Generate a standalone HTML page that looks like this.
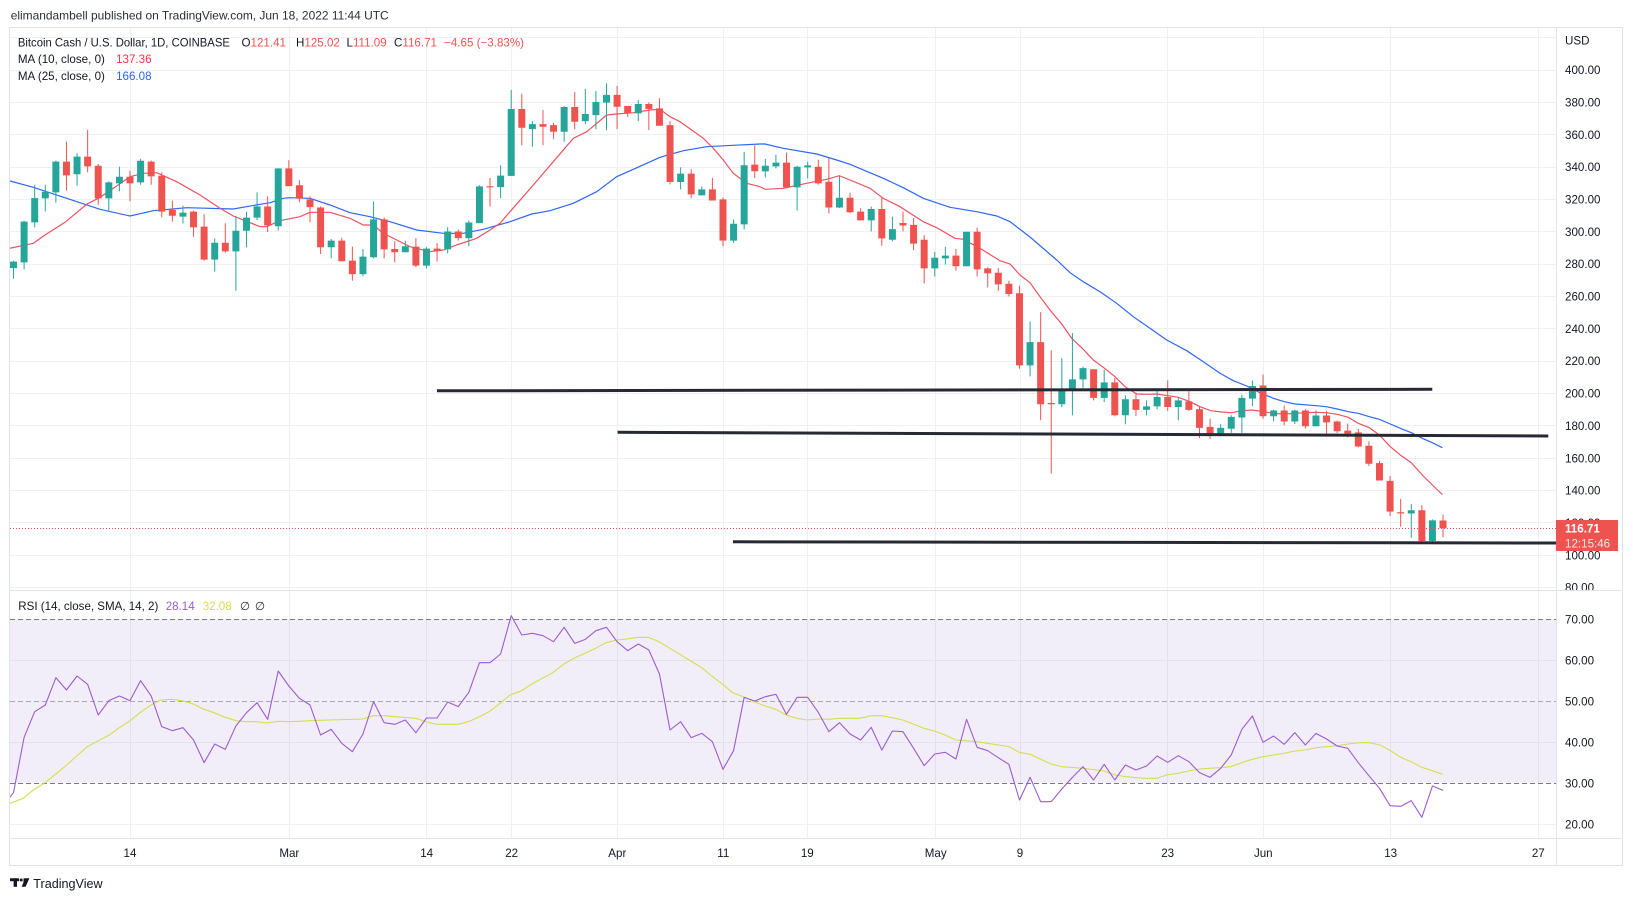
<!DOCTYPE html>
<html><head><meta charset="utf-8"><style>
html,body{margin:0;padding:0;background:#fff;}
svg{display:block;font-family:"Liberation Sans",Arial,sans-serif;}
</style></head><body>
<svg width="1633" height="901" viewBox="0 0 1633 901" xmlns="http://www.w3.org/2000/svg">
<defs>
<clipPath id="cm"><rect x="10" y="28" width="1546" height="562"/></clipPath>
<clipPath id="cr"><rect x="10" y="591" width="1546" height="247"/></clipPath>
<clipPath id="ca"><rect x="1557" y="28" width="65" height="562"/></clipPath>
</defs>
<rect width="1633" height="901" fill="#fff"/>

<!-- grid -->
<g stroke="#eef0f4" stroke-width="1" fill="none">
<path d="M10 37.5H1556M10 70.5H1556M10 102.5H1556M10 134.5H1556M10 167.5H1556M10 199.5H1556M10 231.5H1556M10 264.5H1556M10 296.5H1556M10 328.5H1556M10 361.5H1556M10 393.5H1556M10 425.5H1556M10 458.5H1556M10 490.5H1556M10 522.5H1556M10 555.5H1556M10 587.5H1556"/>
<path d="M10 660.5H1556M10 742.5H1556M10 824.5H1556"/>
<path d="M130.5 28V838M289.5 28V838M426.5 28V838M511.5 28V838M617.5 28V838M723.5 28V838M807.5 28V838M935.5 28V838M1020.5 28V838M1167.5 28V838M1263.5 28V838M1390.5 28V838M1538.5 28V838"/>
</g>

<!-- RSI band -->
<rect x="10" y="619.3" width="1546" height="164" fill="rgb(126,87,194)" fill-opacity="0.1"/>
<g stroke-width="1" fill="none" stroke-dasharray="5 3">
<path d="M10 619.5H1556" stroke="#787b86"/>
<path d="M10 701.5H1556" stroke="#a8a9b3"/>
<path d="M10 783.5H1556" stroke="#787b86"/>
</g>

<!-- main pane content -->
<g clip-path="url(#cm)">
<!-- MA25 -->
<polyline fill="none" stroke="#2f66f6" stroke-width="1.2" points="10,181 33.3,187.3 66.7,198.3 100,209.3 130,216 153.3,210.7 186.7,207.7 233.3,209 260,204.3 270,202.7 283.3,198.3 289.3,197.7 310,198.3 330,205 350,212.7 370,216.7 390,221.7 416.7,230 443.3,233.3 463.3,233.3 483.3,229.3 510,221.7 531.7,214 550,210.7 573.3,203.3 596.7,191.7 616.7,176.7 633.3,169.3 660,157.3 683.3,150.7 706.7,146.7 733.3,145.3 760,144 765,144 783.3,148.3 816.7,154 836.7,160 850,164.3 883.3,178.3 903.3,187.7 923.3,198.3 950,207.3 976.7,211.7 996.7,216 1010,221.7 1030,237 1056.7,260 1070,272.7 1083.3,281.7 1100,291.7 1116.7,303.3 1133.3,316.7 1150,328.3 1166.7,340 1186.7,350.7 1203.3,361.7 1220,373.3 1233.3,380.7 1246.7,386 1260,392.7 1273.3,398.3 1284.3,401.7 1295.3,404 1316.3,405.7 1326.3,406.7 1337.3,409 1348.3,411.7 1358.3,413.3 1369.3,416.7 1379.3,419.3 1390.3,424 1400.3,428.3 1411.3,432.7 1422.3,438.3 1432.3,442.7 1442.3,447.7"/>
<!-- MA10 -->
<polyline fill="none" stroke="#f0525f" stroke-width="1.2" points="10,248.3 33.3,243.3 45,235 65,222.3 86.7,204.3 100,197.3 116.7,186 130,176.7 143.3,173.3 156.7,172.7 176.7,181.7 200,195 220,208.3 233.3,216 260,226.7 266.7,226.7 280,220.7 300,216.7 310,212.3 330,212.3 350,218.3 363.3,225 373.3,225 383.3,233.3 396.7,240 410,246.7 430,251.7 443.3,250 456.7,245 476.7,238.3 490,230 500,223.3 510,211.7 533.3,185 553.3,161.7 573.3,138.3 586.7,131.7 606.7,115 616.7,114 633.3,112.7 650,110 660,109.3 670,116.7 680,121.7 691.7,130 703.3,138.3 713.3,148.3 723.3,160 733.3,173.3 746.7,183.3 760,186.7 765,189.3 783.3,188.3 806.7,183.3 826.7,179.3 839.3,175.7 850,180 870,188.3 883.3,198.3 900,206.7 923.3,221.7 936.7,227.7 955,238.3 963.3,239.3 980,248.3 1000,260.7 1010,264 1020,275 1030,282.7 1040,296.7 1050,310 1061.7,324 1071.7,338.3 1083.3,349.3 1093.3,360 1103.3,367.3 1115,376.7 1125,386.7 1136.7,394 1146.7,394.3 1156.7,394 1168.3,395.7 1178.3,397.3 1190,401.7 1200,406.7 1210.7,410.7 1221.7,412 1231.7,412.7 1242.3,410.7 1252.3,410 1263.3,411.7 1273.3,413.3 1284.3,414 1295.3,413.3 1305.3,412.7 1316.3,412.3 1326.3,412.7 1337.3,414.3 1348.3,417.3 1358.3,423.3 1369.3,427.7 1379.3,435 1390.3,446.7 1400.3,455 1411.3,462.7 1422.3,475 1432.3,485 1442.3,494.5"/>

<g transform="matrix(10.589 0 0 -1.617 2.93 716.8)">
<path fill="none" stroke="#26a69a" stroke-width="1" vector-effect="non-scaling-stroke" d="M1 271V282M2 276.7V306.8M3 302.7V329M4 312.6V329M5 318V344M7 328.5V348.5M10 312.6V331.1M11 325V340.2M13 329V345M17 305.1V316.1M20 275.3V295.9M22 263.5V309.9M23 290.3V312.4M24 307.2V324.3M26 300.7V339.2M31 283.5V295.5M34 272.4V289.3M35 283.5V318.7M38 287.3V294.5M40 277.3V290.4M42 286.6V302.8M44 291V306.9M45 305.3V328.7M47 320.8V341.1M48 334.5V387.7M50 352.5V368.4M53 355.6V377.7M55 366.5V388.3M56 363.4V387M57 362.8V391.8M60 368.4V381.4M64 326.2V339.8M66 322.5V328M69 293.1V307.6M70 301.3V349.4M72 333.6V345M73 339.2V347.6M75 313V340.8M76 333V343.3M79 314.6V334.6M82 300.2V315.5M84 294V309.3M88 272.4V287.6M89 279.6V290.7M91 278.6V300M97 210.5V244.4M100 191.6V221.8M101 186.5V237.3M102 203.4V216.5M104 194.7V214.7M106 180.9V198.8M108 186.5V195.7M109 190.2V202.3M111 183.4V197.4M115 173.6V181M116 175.6V186.5M117 175.6V199.2M118 192.1V208M120 182.8V190M122 181.1V190M124 179.7V189.4M133 110.8V131.7M135 107.2V122.1"/>
<path fill="#26a69a" d="M.67 277.5h.66V281.5h-.66ZM1.67 281h.66V306.2h-.66ZM2.67 305.8h.66V320.8h-.66ZM3.67 320.6h.66V324.7h-.66ZM4.67 324.3h.66V343.3h-.66ZM6.67 335.5h.66V346.4h-.66ZM9.67 320.6h.66V330.5h-.66ZM10.67 329.9h.66V334h-.66ZM12.67 330.5h.66V343.9h-.66ZM16.67 309.3h.66V311.8h-.66ZM19.67 282.7h.66V293.2h-.66ZM21.67 287.8h.66V300.6h-.66ZM22.67 300.6h.66V308.7h-.66ZM23.67 308.7h.66V315.7h-.66ZM25.67 303.4h.66V339.2h-.66ZM30.67 290.4h.66V294.5h-.66ZM33.67 273.8h.66V284.6h-.66ZM34.67 284.2h.66V307.6h-.66ZM37.67 287.3h.66V291h-.66ZM39.67 279h.66V289.5h-.66ZM41.67 289.1h.66V300.1h-.66ZM43.67 296h.66V305.7h-.66ZM44.67 305.3h.66V328h-.66ZM46.67 327.6h.66V334.7h-.66ZM47.67 334.5h.66V375.9h-.66ZM49.67 363.4h.66V366.5h-.66ZM52.67 361.8h.66V377.1h-.66ZM54.67 368.4h.66V372.8h-.66ZM55.67 372.1h.66V380.2h-.66ZM56.67 379.8h.66V384.6h-.66ZM59.67 373.2h.66V379h-.66ZM63.67 330.7h.66V335.9h-.66ZM65.67 322.5h.66V326.2h-.66ZM68.67 294.5h.66V304.9h-.66ZM69.67 304.5h.66V341.1h-.66ZM71.67 337.3h.66V340.8h-.66ZM72.67 340.4h.66V342.7h-.66ZM74.67 327.4h.66V340.2h-.66ZM75.67 339.8h.66V341h-.66ZM78.67 315h.66V321h-.66ZM81.67 307h.66V314h-.66ZM83.67 295h.66V301.6h-.66ZM87.67 277.3h.66V283.9h-.66ZM88.67 283.5h.66V285.2h-.66ZM90.67 278.6h.66V300h-.66ZM96.67 217.3h.66V231.7h-.66ZM99.67 193.3h.66V201.9h-.66ZM100.67 201.9h.66V208.7h-.66ZM101.67 208.7h.66V215.6h-.66ZM103.67 197.2h.66V206.8h-.66ZM105.67 186.5h.66V196.4h-.66ZM107.67 189.8h.66V192h-.66ZM108.67 192h.66V197.8h-.66ZM110.67 191.6h.66V195.7h-.66ZM114.67 174.2h.66V178.7h-.66ZM115.67 178.1h.66V185.5h-.66ZM116.67 185.1h.66V197.2h-.66ZM117.67 196.8h.66V204.6h-.66ZM119.67 185.9h.66V189.4h-.66ZM121.67 182.6h.66V189.4h-.66ZM123.67 179.7h.66V186.3h-.66ZM132.67 125.7h.66V127.7h-.66ZM134.67 108.7h.66V121.5h-.66Z"/>
<path fill="none" stroke="#ef5350" stroke-width="1" vector-effect="non-scaling-stroke" d="M6 325.4V355.7M8 336.7V363M9 316.7V341.9M12 318.8V337.7M14 329V344M15 308.9V336.7M16 306.2V319.2M18 296.9V313M19 282.1V310.9M21 287V305.2M25 299.7V321.8M27 328.2V344.2M28 318.3V331.8M29 305.9V321.8M30 286.2V315.6M32 281.7V296.2M33 269.7V290.8M36 283.5V308.8M37 281V294.1M39 278V296M41 281.5V292.9M43 294.5V301.3M46 315.6V333.2M49 353.5V385.2M51 353.5V375.2M52 357.2V367.4M54 363.4V386.4M58 363.4V390.1M59 371.1V377.7M61 362.8V380M62 365.5V382.5M63 329.3V368.4M65 320.6V338.6M67 319.3V333.2M68 291V321.2M71 333.1V353.5M74 327.4V348.9M77 329.1V344.5M78 311.3V345.6M80 311.5V324.1M81 307V314.6M83 291.3V321.6M85 300.2V312.4M86 288.7V308.5M87 268V297.9M90 275.9V289.3M92 272.4V302.5M93 265.6V277.9M94 263.5V277.5M95 260V269.7M96 215.3V266.6M98 183.4V250.2M99 150.5V226.6M103 195.7V214.9M105 185.9V209.5M107 186.1V200.3M110 189.2V208.1M112 189.2V201.3M113 172.5V192.2M114 171.9V184.4M119 184.4V211.7M121 180.3V192.5M123 178.2V190.4M125 174V189M126 175.5V183.2M127 172.8V181.3M128 166.6V178M129 155.2V170.3M130 146.1V158.3M131 124.2V149M132 117.6V134.8M134 107.6V130.8M136 111.09V125.02"/>
<path fill="#ef5350" d="M5.67 343.3h.66V334.8h-.66ZM7.67 346.4h.66V340.4h-.66ZM8.67 340.8h.66V320.6h-.66ZM11.67 334h.66V329.9h-.66ZM13.67 343.3h.66V334.2h-.66ZM14.67 334.6h.66V312.4h-.66ZM15.67 313.6h.66V309.9h-.66ZM17.67 312.4h.66V302.7h-.66ZM18.67 303.1h.66V282.7h-.66ZM20.67 293.2h.66V287.8h-.66ZM24.67 315.6h.66V303.8h-.66ZM26.67 339.2h.66V328.2h-.66ZM27.67 328.7h.66V320.4h-.66ZM28.67 320h.66V315.2h-.66ZM29.67 315h.66V290.4h-.66ZM31.67 294.5h.66V281.7h-.66ZM32.67 282.1h.66V273.8h-.66ZM35.67 307.6h.66V289.1h-.66ZM36.67 289.3h.66V287.3h-.66ZM38.67 290.8h.66V279h-.66ZM40.67 289.5h.66V288.3h-.66ZM42.67 300.1h.66V296h-.66ZM45.67 328.1h.66V327.4h-.66ZM48.67 375.9h.66V364.3h-.66ZM50.67 366.5h.66V364.9h-.66ZM51.67 365.9h.66V361.8h-.66ZM53.67 377.1h.66V368h-.66ZM57.67 384.6h.66V377.3h-.66ZM58.67 377.7h.66V373.2h-.66ZM60.67 379h.66V375.9h-.66ZM61.67 376.3h.66V365.5h-.66ZM62.67 365.9h.66V330.7h-.66ZM64.67 335.9h.66V323.1h-.66ZM66.67 326.2h.66V319.3h-.66ZM67.67 320h.66V294.5h-.66ZM70.67 341.5h.66V337.4h-.66ZM73.67 342.7h.66V327.4h-.66ZM76.67 340.2h.66V329.9h-.66ZM77.67 330.9h.66V315h-.66ZM79.67 321h.66V312h-.66ZM80.67 312.4h.66V307h-.66ZM82.67 314h.66V295.9h-.66ZM84.67 305.4h.66V303.8h-.66ZM85.67 304.2h.66V292.6h-.66ZM86.67 295h.66V277.3h-.66ZM89.67 285.2h.66V278.6h-.66ZM91.67 300h.66V276.7h-.66ZM92.67 277.3h.66V274.2h-.66ZM93.67 274.6h.66V267.4h-.66ZM94.67 267.8h.66V261.5h-.66ZM95.67 261.9h.66V217.3h-.66ZM97.67 231.7h.66V193.3h-.66ZM98.67 194.1h.66V193.3h-.66ZM102.67 214.9h.66V197.2h-.66ZM104.67 206.8h.66V186.5h-.66ZM106.67 196.4h.66V189.8h-.66ZM109.67 197.8h.66V191.6h-.66ZM111.67 195.1h.66V189.8h-.66ZM112.67 190.2h.66V178.7h-.66ZM113.67 179.3h.66V174.2h-.66ZM118.67 204.9h.66V185.9h-.66ZM120.67 189.4h.66V182.6h-.66ZM122.67 189.4h.66V179.7h-.66ZM124.67 186.3h.66V182.1h-.66ZM125.67 182.6h.66V176.6h-.66ZM126.67 177h.66V175.1h-.66ZM127.67 175.9h.66V167.2h-.66ZM128.67 167.6h.66V156.5h-.66ZM129.67 156.9h.66V146.1h-.66ZM130.67 145.9h.66V126.9h-.66ZM131.67 126.5h.66V125.7h-.66ZM133.67 127.7h.66V108.7h-.66ZM135.67 121.41h.66V116.71h-.66Z"/>
</g>

<!-- last price dotted line -->
<path d="M10 528.5H1556" stroke="#ef5350" stroke-width="1" stroke-dasharray="1 2"/>

<!-- trend lines -->
<g stroke="#262a35" stroke-width="3" stroke-linecap="butt">
<line x1="437" y1="390.8" x2="1432.3" y2="389.3"/>
<line x1="617.6" y1="432.3" x2="1548.3" y2="436"/>
<line x1="733" y1="541.8" x2="1556" y2="543"/>
</g>
</g>

<!-- RSI pane content -->
<g clip-path="url(#cr)">
<polyline fill="none" stroke="#d2df4e" stroke-width="1.1" points="10,803.3 23.3,798.3 33.3,790 45,782.7 56.7,773.3 66.7,765 76.7,756 87.3,746.7 98.3,740.7 109.3,735 119.3,727.7 130,720.7 140,712.7 151,705 161,700 171.7,699.3 182.3,700.7 193.3,704 203.7,709.3 214,712.7 225,717.3 236,720.7 246.7,721.7 256.7,721.7 266.7,723 277.7,721.3 288.3,721.7 299,721.3 310,720.7 320,720.3 362.7,719 373.3,715.7 384.3,715.7 395,716.7 416,718.3 426.7,722 436.7,724.3 458.3,724.3 469.3,721.3 479.3,716.7 489.3,711.7 500,703.3 510,695 521.7,690.7 531.7,684 552.7,672.7 564,664 574,658.3 585,653.3 595.7,648.3 606,642.7 616.7,640 626.7,639 637.7,637.3 648.3,637.3 659,641.7 670,648.3 680,654.3 690.7,661 701.7,667.7 711.7,676 722.7,684.3 732.7,692.7 743.3,696.7 754.3,701.7 765,706 775.7,709.3 786,715 796.7,718.3 807.3,720 818.3,719 829,719.3 839.3,718.3 860,718.3 870.7,715.7 881.7,715.7 892.3,717.7 902.7,720 913.3,724 924,728.3 934.3,731 945,735 955.7,740 966,740.7 976.7,741.7 987.3,743.3 998.3,745 1009,746.7 1019,752.3 1030,754.3 1040.7,759.3 1051,764 1061.7,766.7 1082.7,768.3 1104,771 1115,775 1125.7,776.7 1136,777.7 1146,778.3 1156.7,778.3 1166.7,775 1177.7,773.3 1188.3,771 1199,769 1209.3,768.3 1220,767.7 1230.7,766.7 1241.7,762.7 1252.3,759.3 1262.7,756.7 1273.3,755 1284,753.3 1295,751 1305,750 1316,747.7 1326.7,746.7 1337.3,745.7 1348.3,744 1359.3,742.7 1369.3,742.7 1380,745 1390.7,750.7 1400.7,757.3 1411,761.7 1421.7,767.3 1432.3,770.7 1442.7,774.3"/>
<polyline transform="matrix(10.589 0 0 0.333333 2.93 590)" fill="none" stroke="#9c5ccf" stroke-width="1.1" vector-effect="non-scaling-stroke" stroke-linejoin="round" points="0,647 1,608 2,442 3,365 4,345 5,263 6,300 7,258 8,283 9,375 10,332 11,318 12,332 13,272 14,318 15,410 16,422 17,413 18,450 19,518 20,462 21,478 22,408 23,368 24,338 25,388 26,243 27,288 28,325 29,345 30,435 31,418 32,460 33,485 34,432 35,335 36,398 37,403 38,390 39,428 40,384 41,384 42,336 43,350 44,307 45,218 46,218 47,192 48,77 49,135 50,130 51,137 52,155 53,112 54,160 55,148 56,122 57,112 58,155 59,182 60,162 61,180 62,252 63,420 64,395 65,443 66,430 67,455 68,538 69,482 70,322 71,333 72,320 73,313 74,373 75,322 76,322 77,367 78,425 79,398 80,432 81,450 82,412 83,480 84,423 85,425 86,475 87,527 88,492 89,487 90,507 91,388 92,472 93,482 94,503 95,523 96,630 97,562 98,635 99,635 100,597 101,562 102,530 103,570 104,523 105,570 106,525 107,540 108,528 109,498 110,517 111,497 112,515 113,548 114,562 115,535 116,495 117,418 118,378 119,457 120,438 121,463 122,428 123,465 124,430 125,447 126,468 127,475 128,518 129,557 130,595 131,647 132,649 133,632 134,682 135,588 136,601"/>
</g>

<!-- frame & separators -->
<g stroke="#e0e3eb" stroke-width="1" fill="none">
<rect x="9.5" y="27.5" width="1613" height="838"/>
<path d="M10 590.5H1622M10 838.5H1622M1556.5 28V865"/>
</g>

<!-- header -->
<text x="10.7" y="19.3" font-size="12" fill="#2a2e39" textLength="378" lengthAdjust="spacingAndGlyphs">elimandambell published on TradingView.com, Jun 18, 2022 11:44 UTC</text>

<!-- legend -->
<g font-size="11.6" fill="#131722">
<text x="17.9" y="46.7" textLength="212" lengthAdjust="spacingAndGlyphs">Bitcoin Cash / U.S. Dollar, 1D, COINBASE</text>
<text x="241.5" y="46.7">O<tspan fill="#ef5350">121.41</tspan></text>
<text x="296" y="46.7">H<tspan fill="#ef5350">125.02</tspan></text>
<text x="346.5" y="46.7">L<tspan fill="#ef5350">111.09</tspan></text>
<text x="394" y="46.7">C<tspan fill="#ef5350">116.71</tspan></text>
<text x="444.1" y="46.7" fill="#ef5350">−4.65 (−3.83%)</text>
<text x="17.9" y="63.2">MA (10, close, 0)</text>
<text x="116.1" y="63.2" fill="#f23645">137.36</text>
<text x="17.9" y="79.9">MA (25, close, 0)</text>
<text x="116.1" y="79.9" fill="#2962ff">166.08</text>
<text x="18.3" y="609.9" textLength="140" lengthAdjust="spacingAndGlyphs">RSI (14, close, SMA, 14, 2)</text>
<text x="165.7" y="609.9" fill="#9c5ccf">28.14</text>
<text x="202.7" y="609.9" fill="#d2df4e">32.08</text>
<text x="240" y="609.9" fill="#2a2e39">∅</text>
<text x="255" y="609.9" fill="#2a2e39">∅</text>
</g>

<!-- price axis labels -->
<g font-size="11.6" fill="#131722">
<text x="1565" y="44.7">USD</text>
<g clip-path="url(#ca)">
<text x="1565" y="74.2">400.00</text>
<text x="1565" y="106.5">380.00</text>
<text x="1565" y="138.9">360.00</text>
<text x="1565" y="171.2">340.00</text>
<text x="1565" y="203.5">320.00</text>
<text x="1565" y="235.9">300.00</text>
<text x="1565" y="268.2">280.00</text>
<text x="1565" y="300.6">260.00</text>
<text x="1565" y="332.9">240.00</text>
<text x="1565" y="365.2">220.00</text>
<text x="1565" y="397.6">200.00</text>
<text x="1565" y="429.9">180.00</text>
<text x="1565" y="462.3">160.00</text>
<text x="1565" y="494.6">140.00</text>
<text x="1565" y="527">120.00</text>
<text x="1565" y="559.3">100.00</text>
<text x="1565" y="591.6">80.00</text>
</g>
<text x="1565" y="623.5">70.00</text>
<text x="1565" y="664.5">60.00</text>
<text x="1565" y="705.5">50.00</text>
<text x="1565" y="746.5">40.00</text>
<text x="1565" y="787.5">30.00</text>
<text x="1565" y="828.5">20.00</text>
</g>

<!-- last price label -->
<rect x="1556" y="520" width="62" height="31" fill="#ef5350"/>
<text x="1565" y="532.3" font-size="11.6" font-weight="bold" fill="#fff">116.71</text>
<text x="1565" y="547.5" font-size="11.6" fill="#fff" fill-opacity="0.85">12:15:46</text>

<!-- time axis -->
<g font-size="11.6" fill="#131722" text-anchor="middle">
<text x="130" y="856.9">14</text>
<text x="289.3" y="856.9">Mar</text>
<text x="426.7" y="856.9">14</text>
<text x="511.7" y="856.9">22</text>
<text x="617.3" y="856.9">Apr</text>
<text x="723.3" y="856.9">11</text>
<text x="807.3" y="856.9">19</text>
<text x="935.7" y="856.9">May</text>
<text x="1020" y="856.9">9</text>
<text x="1167.7" y="856.9">23</text>
<text x="1263.3" y="856.9">Jun</text>
<text x="1390.7" y="856.9">13</text>
<text x="1538.3" y="856.9">27</text>
</g>

<!-- footer logo -->
<g fill="#131722">
<rect x="10" y="878.3" width="9" height="2.9"/>
<rect x="13.6" y="878.3" width="3.4" height="8.5"/>
<circle cx="21.2" cy="880" r="1.5"/>
<polygon points="23.6,878.3 29.4,878.3 25.6,886.8 21.6,886.8 23.4,882.6"/>
</g>
<text x="33.3" y="887.8" font-size="12.6" fill="#131722">TradingView</text>
</svg>
</body></html>
